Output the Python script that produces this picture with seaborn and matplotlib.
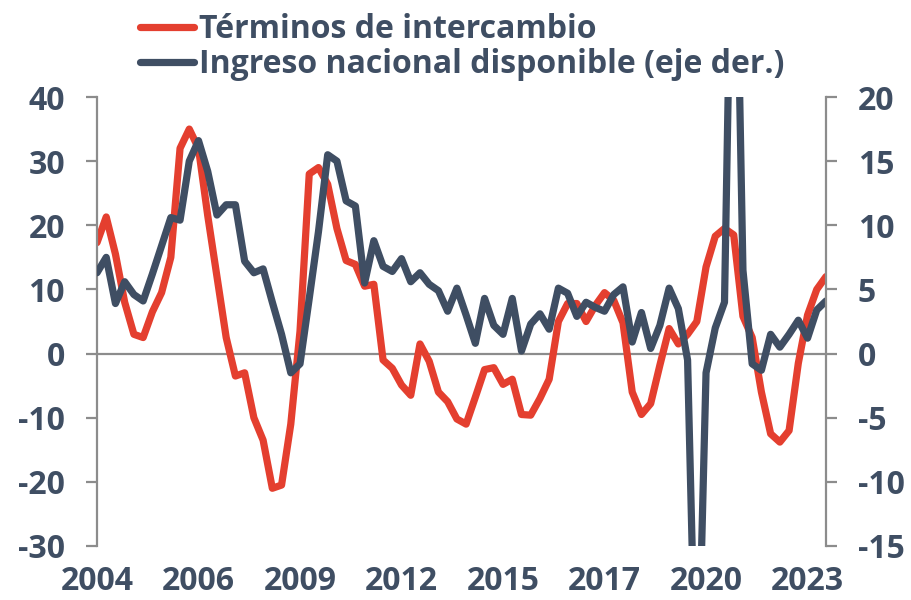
import numpy as np
import pandas as pd
import matplotlib
matplotlib.use("Agg")
import matplotlib.pyplot as plt
import seaborn as sns

# Datos trimestrales 2004T1 - 2023T4 (var. % anual)
terminos = [17.3, 21.3, 15.5, 8.0, 3.0, 2.5, 6.5, 9.5, 15.0, 32.0,
            35.0, 32.0, 21.5, 12.0, 2.5, -3.5, -3.0, -10.0, -13.5, -21.0,
            -20.5, -11.0, 3.5, 28.0, 29.0, 26.4, 19.5, 14.5, 13.9, 10.5,
            10.8, -1.0, -2.3, -4.9, -6.5, 1.5, -1.2, -6.0, -7.5, -10.2,
            -11.0, -6.8, -2.5, -2.2, -4.8, -4.0, -9.5, -9.6, -7.0, -4.0,
            5.0, 7.8, 7.8, 5.0, 7.5, 9.5, 8.3, 4.8, -6.0, -9.5,
            -7.8, -1.8, 3.9, 1.5, 3.0, 5.0, 13.5, 18.3, 19.5, 18.5,
            5.8, 2.5, -6.0, -12.5, -13.8, -12.0, -1.5, 6.0, 10.0, 12.0]

ingreso = [6.3, 7.5, 3.9, 5.6, 4.6, 4.1, 6.2, 8.4, 10.6, 10.4,
           15.0, 16.6, 14.2, 10.8, 11.6, 11.6, 7.2, 6.3, 6.6, 4.0,
           1.5, -1.5, -0.8, 4.3, 9.5, 15.5, 15.0, 11.9, 11.5, 5.5,
           8.8, 6.8, 6.4, 7.4, 5.6, 6.3, 5.4, 4.9, 3.3, 5.1,
           3.0, 0.8, 4.3, 2.2, 1.5, 4.3, 0.2, 2.3, 3.1, 1.9,
           5.1, 4.7, 2.9, 4.0, 3.6, 3.3, 4.6, 5.2, 0.9, 3.2,
           0.4, 2.2, 5.1, 3.5, -0.5, -30.0, -1.5, 2.0, 4.0, 45.0,
           6.5, -0.8, -1.3, 1.5, 0.5, 1.5, 2.6, 1.2, 3.4, 4.1]

tick_pos = [0, 11, 22, 33, 44, 55, 66, 77]
tick_labels = ["2004", "2006", "2009", "2012", "2015", "2017", "2020", "2023"]

left_ticks = [-30, -20, -10, 0, 10, 20, 30, 40]
right_ticks = [-15, -10, -5, 0, 5, 10, 15, 20]

RED = "#E43F2F"
NAVY = "#3F4E63"
GRAY = "#8C8C8C"

df = pd.DataFrame({"t": np.arange(len(terminos)),
                   "terminos": terminos,
                   "ingreso": ingreso})

sns.set_theme(style="white")
plt.rcParams["font.family"] = ["Open Sans", "DejaVu Sans"]
plt.rcParams["font.weight"] = "bold"
plt.rcParams["axes.unicode_minus"] = False

fig = plt.figure(figsize=(9.12, 6.0), dpi=100)
ax = fig.add_axes([97 / 912, 1 - 546 / 600, (826 - 97) / 912, (546 - 97) / 600])
ax2 = ax.twinx()

ax.axhline(0, color=GRAY, lw=1.6, zorder=1)

sns.lineplot(data=df, x="t", y="terminos", ax=ax, color=RED, lw=5.2,
             label="Términos de intercambio", legend=False,
             solid_joinstyle="round", solid_capstyle="round")
sns.lineplot(data=df, x="t", y="ingreso", ax=ax2, color=NAVY, lw=5.2,
             label="Ingreso nacional disponible (eje der.)", legend=False,
             solid_joinstyle="round", solid_capstyle="round")

ax.set_xlim(0, len(terminos) - 1)
ax.set_ylim(-30, 40)
ax2.set_ylim(-15, 20)
ax.set_yticks(left_ticks)
ax2.set_yticks(right_ticks)
ax.set_xticks(tick_pos)
ax.set_xticklabels(tick_labels)
ax.set_xlabel("")
ax.set_ylabel("")
ax2.set_ylabel("")

fs = 23
for a in (ax, ax2):
    for s in ("top", "bottom"):
        a.spines[s].set_visible(False)
    a.spines["left"].set_visible(a is ax)
    a.spines["right"].set_visible(a is ax2)
    for s in ("left", "right"):
        a.spines[s].set_color(GRAY)
        a.spines[s].set_linewidth(1.6)
    a.tick_params(axis="y", direction="out", length=8, width=1.6, color=GRAY,
                  labelsize=fs, labelcolor=NAVY, pad=15)
ax.tick_params(axis="x", length=0, labelsize=fs, labelcolor=NAVY, pad=14)
for lab in ax.get_xticklabels() + ax.get_yticklabels() + ax2.get_yticklabels():
    lab.set_fontweight("bold")

h1, l1 = ax.get_legend_handles_labels()
h2, l2 = ax2.get_legend_handles_labels()
fig.legend(h1 + h2, l1 + l2, loc="upper left", bbox_to_anchor=(140 / 912, 0.978),
           frameon=False, handlelength=1.7, handletextpad=0.15,
           labelspacing=0.05, borderpad=0, borderaxespad=0,
           labelcolor=NAVY, prop={"weight": "bold", "size": fs})

fig.savefig("out.png", dpi=100)
